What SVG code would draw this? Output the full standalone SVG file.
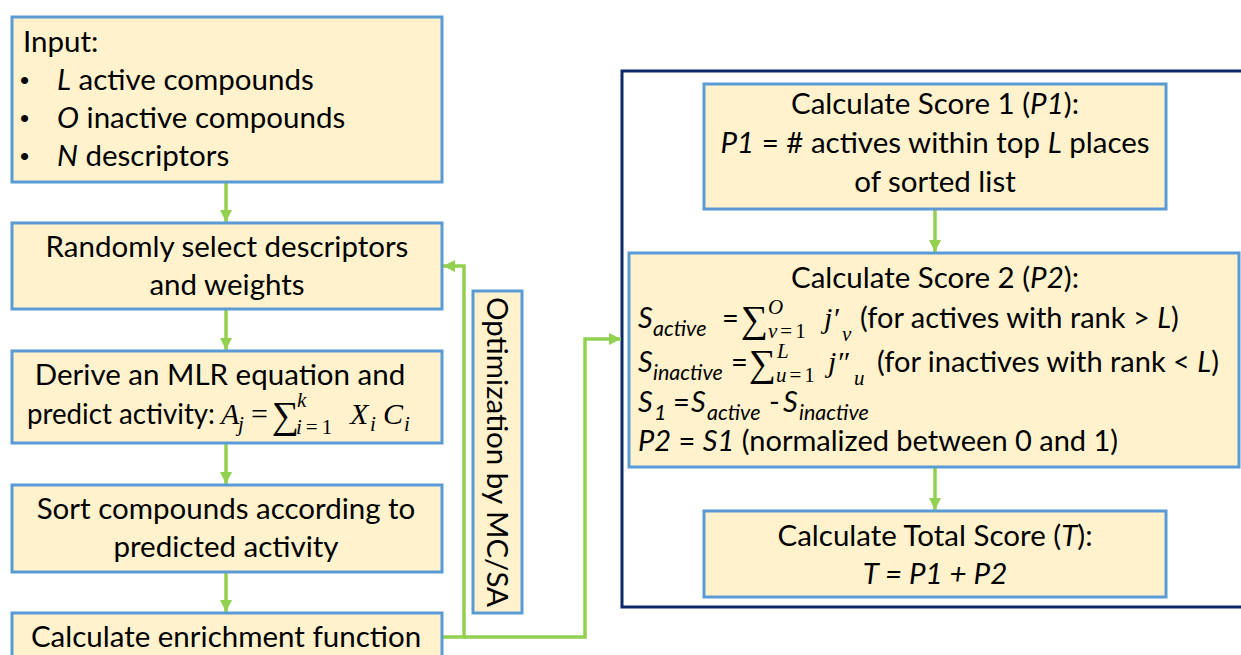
<svg xmlns="http://www.w3.org/2000/svg" width="1241" height="655" viewBox="0 0 1241 655">
<defs>
<style>
.box{fill:#FFF2CC;stroke:#5B9BD5;stroke-width:3}
.frame{fill:none;stroke:#0C2A6A;stroke-width:3}
.t{font-family:Lato,'Open Sans',sans-serif;font-size:29.5px;fill:#000}
.t2{font-family:Lato,'Open Sans',sans-serif;font-size:29px;fill:#000}
.c{text-anchor:middle}
.i{font-style:italic}
.m{font-family:'Liberation Serif','DejaVu Serif',serif;font-style:italic;font-size:30px;fill:#000}
.ms{font-family:'Liberation Serif','DejaVu Serif',serif;font-style:italic;font-size:21px;fill:#000}
.mu{font-family:'Liberation Serif','DejaVu Serif',serif;font-size:30px;fill:#000}
.sig{font-family:'Liberation Serif','DejaVu Serif',serif;font-size:38px;fill:#000}
.sub{font-family:Lato,'Open Sans',sans-serif;font-style:italic;font-size:21.5px;fill:#000}
.bul{font-family:'Liberation Sans',sans-serif;font-size:26px;fill:#000}
.con{fill:none;stroke:#92D050;stroke-width:3.5}
</style>
<marker id="ah" viewBox="0 0 10 10" refX="10" refY="5" markerWidth="12" markerHeight="12" markerUnits="userSpaceOnUse" orient="auto">
<path d="M0,0 L10,5 L0,10 z" fill="#92D050"/>
</marker>
</defs>
<rect width="1241" height="655" fill="#FFFFFF"/>

<g id="frame"><rect class="frame" x="622" y="71" width="640" height="536"/></g>

<g id="connectors">
<line class="con" x1="226" y1="183" x2="226" y2="222" marker-end="url(#ah)"/>
<line class="con" x1="226" y1="310" x2="226" y2="350" marker-end="url(#ah)"/>
<line class="con" x1="226" y1="444" x2="226" y2="484" marker-end="url(#ah)"/>
<line class="con" x1="226" y1="573" x2="226" y2="612" marker-end="url(#ah)"/>
<polyline class="con" points="442,637 464,637 464,266 443,266" marker-end="url(#ah)"/>
<polyline class="con" points="464,637 585,637 585,339 621,339" marker-end="url(#ah)"/>
<line class="con" x1="935" y1="210" x2="935" y2="252" marker-end="url(#ah)"/>
<line class="con" x1="935" y1="468" x2="935" y2="510" marker-end="url(#ah)"/>
</g>

<g id="input">
<rect class="box" x="12" y="17" width="430" height="165"/>
<text class="t" x="23" y="52">Input:</text>
<text class="bul" x="20" y="89">•</text>
<text class="t" x="57" y="90"><tspan class="i">L</tspan> active compounds</text>
<text class="bul" x="20" y="127">•</text>
<text class="t" x="57" y="128"><tspan class="i">O</tspan> inactive compounds</text>
<text class="bul" x="20" y="165">•</text>
<text class="t" x="57" y="166"><tspan class="i">N</tspan> descriptors</text>
</g>

<g id="random">
<rect class="box" x="12" y="223" width="430" height="86"/>
<text class="t c" x="227" y="257">Randomly select descriptors</text>
<text class="t c" x="227" y="295">and weights</text>
</g>

<g id="derive">
<rect class="box" x="12" y="351" width="430" height="92"/>
<text class="t c" x="220" y="385">Derive an MLR equation and</text>
<text class="t" x="27" y="424" textLength="188" lengthAdjust="spacingAndGlyphs">predict activity:</text>
<text class="m" x="221" y="424">A</text>
<text class="ms" x="238" y="431">j</text>
<text class="mu" x="251" y="424">=</text>
<text class="sig" x="272" y="428">∑</text>
<text class="ms" x="297" y="407" font-size="18">k</text>
<text class="ms" x="296" y="434">i<tspan font-style="normal" dx="4">=</tspan><tspan font-style="normal" dx="4">1</tspan></text>
<text class="m" x="350" y="424">X</text>
<text class="ms" x="370" y="431">i</text>
<text class="m" x="383" y="424">C</text>
<text class="ms" x="404" y="431">i</text>
</g>

<g id="sort">
<rect class="box" x="12" y="485" width="430" height="87"/>
<text class="t c" x="226" y="519">Sort compounds according to</text>
<text class="t c" x="226" y="557">predicted activity</text>
</g>

<g id="enrich">
<rect class="box" x="12" y="613" width="430" height="60"/>
<text class="t c" x="226" y="647">Calculate enrichment function</text>
</g>

<g id="optimization">
<rect class="box" x="473" y="291" width="49" height="322"/>
<text class="t c" transform="translate(487,452) rotate(90)" x="0" y="0">Optimization by MC/SA</text>
</g>

<g id="score1">
<rect class="box" x="704" y="84" width="462" height="125"/>
<text class="t c" x="935" y="114">Calculate Score 1 (<tspan class="i">P1</tspan>):</text>
<text class="t c" x="935" y="153"><tspan class="i">P1</tspan> = # actives within top <tspan class="i">L</tspan> places</text>
<text class="t c" x="935" y="192">of sorted list</text>
</g>

<g id="score2">
<rect class="box" x="629" y="253" width="610" height="214"/>
<text class="t c" x="935" y="288">Calculate Score 2 (<tspan class="i">P2</tspan>):</text>
<text class="t2 i" x="638" y="328">S</text>
<text class="sub" x="653" y="336">active</text>
<text class="t2" x="722" y="328">=</text>
<text class="sig" x="741" y="332">∑</text>
<text class="ms" x="768" y="314">O</text>
<text class="ms" x="768" y="338">v<tspan font-style="normal" dx="3">=</tspan><tspan font-style="normal" dx="3">1</tspan></text>
<text class="m" x="824" y="328">j′</text>
<text class="ms" x="842" y="341">v</text>
<text class="t2" x="860" y="328">(for actives with rank &gt; <tspan class="i">L</tspan>)</text>

<text class="t2 i" x="638" y="372">S</text>
<text class="sub" x="653" y="380">inactive</text>
<text class="t2" x="731" y="372">=</text>
<text class="sig" x="749" y="376">∑</text>
<text class="ms" x="777" y="358">L</text>
<text class="ms" x="776" y="382">u<tspan font-style="normal" dx="3">=</tspan><tspan font-style="normal" dx="3">1</tspan></text>
<text class="m" x="828" y="372">j″</text>
<text class="ms" x="854" y="385">u</text>
<text class="t2" x="877" y="372">(for inactives with rank &lt; <tspan class="i">L</tspan>)</text>

<text class="t2 i" x="638" y="412">S</text>
<text class="sub" x="654" y="420">1</text>
<text class="t2" x="673" y="412">=</text>
<text class="t2 i" x="691" y="412">S</text>
<text class="sub" x="707" y="420">active</text>
<text class="t2" x="769" y="412">-</text>
<text class="t2 i" x="783" y="412">S</text>
<text class="sub" x="799" y="420">inactive</text>

<text class="t2" x="638" y="451"><tspan class="i">P2</tspan> = <tspan class="i">S1</tspan> (normalized between 0 and 1)</text>
</g>

<g id="total">
<rect class="box" x="704" y="511" width="462" height="86"/>
<text class="t c" x="935" y="546">Calculate Total Score (<tspan class="i">T</tspan>):</text>
<text class="t c i" x="935" y="584">T = P1 + P2</text>
</g>
</svg>
